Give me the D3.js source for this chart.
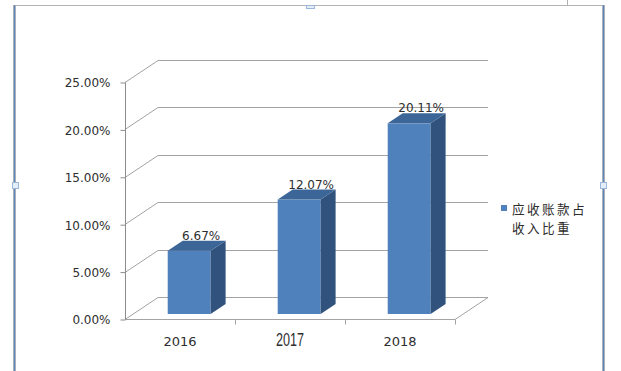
<!DOCTYPE html>
<html>
<head>
<meta charset="utf-8">
<script src="https://cdn.jsdelivr.net/npm/d3@7"></script>
<style>
  body { margin: 0; background: #fff; }
  svg { display: block; }
</style>
</head>
<body>
<div id="chart"></div>
<script>
"use strict"

// chart data
var years = ['2016', '2017', '2018'];
var ratios = [0.0667, 0.1207, 0.2011];
var yTicks = [0, 0.05, 0.10, 0.15, 0.20, 0.25];
var legendLines = ['应收账款占', '收入比重'];

var width = 621;
var height = 371;
var svg = d3.select("#chart")
    .append("svg")
    .attr("width", width)
    .attr("height", height);

svg.append("rect").attr("width", width).attr("height", height).attr("fill", "#fff");

// word style frame round the chart
svg.append("line").attr("x1", 16).attr("x2", 603).attr("y1", 5.5).attr("y2", 5.5)
    .attr("stroke", "#b4b4b4");
svg.append("line").attr("x1", 567.5).attr("x2", 567.5).attr("y1", 0).attr("y2", 5)
    .attr("stroke", "#b0b0b0");
[13, 602].forEach(function(bx) {
    svg.append("rect").attr("x", bx).attr("y", 5).attr("width", 3).attr("height", height - 5)
        .attr("fill", "#a9b0ba");
    svg.append("rect").attr("x", bx + 1).attr("y", 5).attr("width", 1).attr("height", height - 5)
        .attr("fill", "#5d86bd");
});
var handles = [[12, 182, 6, 6], [600, 182, 6, 6], [306, 5, 8, 3]];
handles.forEach(function(h) {
    svg.append("rect").attr("x", h[0] + 0.5).attr("y", h[1] + 0.5).attr("width", h[2]).attr("height", h[3])
        .attr("fill", "#e3eef9").attr("stroke", "#9bb8dc");
});

// scales
var x = d3.scaleBand()
    .domain(years)
    .range([125, 455])
    .padding(0);
var y = d3.scaleLinear()
    .domain([0, 0.25])
    .range([319, 82]);

// depth of the 3d box and of the bars
var wallDx = 33, wallDy = -22;
var barDx = 7.5, barDy = -5;
var barDepthX = 15, barDepthY = -10;
var gridColor = "#a3a3a3";
var textColor = "#2e2e2e";
var fmt = d3.format(".2%");

// back wall gridlines and the side lines
var grid = svg.append("g").attr("fill", "none").attr("stroke", gridColor).attr("stroke-width", 1);
yTicks.forEach(function(t) {
    var yy = Math.round(y(t)) + 0.5;
    grid.append("polyline")
        .attr("points", [[125, yy], [125 + wallDx, yy + wallDy], [488, yy + wallDy]].join(" "));
});
// floor front and right edge
var y0 = Math.round(y(0)) + 0.5;
grid.append("polyline")
    .attr("points", [[125, y0], [455, y0], [455 + wallDx, y0 + wallDy]].join(" "));

// bars
var bw = x.bandwidth();
var barW = bw * 0.39;
var bars = svg.append("g").selectAll("g")
    .data(years.map(function(yr, i) { return {year: yr, value: ratios[i]}; }))
    .enter()
    .append("g");

function barX(d) { return x(d.year) + bw * 0.32 + barDx; }
function barTop(d) { return y(d.value) + barDy; }
var barBottom = y(0) + barDy;

bars.append("rect")
    .attr("x", barX)
    .attr("y", barTop)
    .attr("width", barW)
    .attr("height", function(d) { return barBottom - barTop(d); })
    .attr("fill", "#4f81bd");
bars.append("polygon")
    .attr("points", function(d) {
        var x1 = barX(d) + barW, t = barTop(d);
        return [[x1, t], [x1 + barDepthX, t + barDepthY], [x1 + barDepthX, barBottom + barDepthY], [x1, barBottom]].join(" ");
    })
    .attr("fill", "#30527c");
bars.append("polygon")
    .attr("points", function(d) {
        var x0 = barX(d), t = barTop(d);
        return [[x0, t], [x0 + barDepthX, t + barDepthY], [x0 + barW + barDepthX, t + barDepthY], [x0 + barW, t]].join(" ");
    })
    .attr("fill", "#3d6698");

// value labels
bars.append("text")
    .attr("x", function(d) { return barX(d) + barW / 2 + 12; })
    .attr("y", function(d) { return y(d.value) - 16; })
    .attr("text-anchor", "middle")
    .attr("font-family", "DejaVu Sans")
    .attr("font-size", 12)
    .attr("fill", textColor)
    .text(function(d) { return fmt(d.value); });

// y axis
var yAxis = svg.append("g")
    .attr("transform", "translate(125.5,0.5)")
    .call(d3.axisLeft(y).tickValues(yTicks).tickFormat(fmt).tickSize(5).tickPadding(10));
yAxis.select(".domain").attr("stroke", "#8c8c8c").attr("d", "M0," + y(0.25) + "V" + y(0));
yAxis.selectAll(".tick line").attr("stroke", "#8c8c8c");
yAxis.selectAll(".tick text")
    .attr("font-family", "DejaVu Sans")
    .attr("font-size", 12)
    .attr("fill", textColor)
    .attr("dy", "0.36em");

// x axis ticks at the band edges
var edges = years.map(function(d) { return x(d); }).concat([455]);
svg.append("g").selectAll("line")
    .data(edges.slice(1))
    .enter()
    .append("line")
    .attr("x1", function(d) { return Math.round(d) + 0.5; })
    .attr("x2", function(d) { return Math.round(d) + 0.5; })
    .attr("y1", y0)
    .attr("y2", y0 + 5)
    .attr("stroke", gridColor);

// category labels (the middle one is set in a narrow font in the original)
svg.append("g").selectAll("text")
    .data(years)
    .enter()
    .append("text")
    .attr("x", function(d) { return x(d) + bw / 2; })
    .attr("y", 346)
    .attr("text-anchor", "middle")
    .attr("font-family", function(d, i) { return i == 1 ? "Liberation Sans" : "DejaVu Sans"; })
    .attr("font-size", function(d, i) { return i == 1 ? 17.5 : 13; })
    .attr("textLength", function(d, i) { return i == 1 ? 28 : null; })
    .attr("lengthAdjust", "spacingAndGlyphs")
    .attr("fill", textColor)
    .text(function(d) { return d; });

// legend, two lines
svg.append("rect")
    .attr("x", 501).attr("y", 205).attr("width", 6).attr("height", 6)
    .attr("fill", "#4f81bd");
svg.append("g").selectAll("text")
    .data(legendLines)
    .enter()
    .append("text")
    .attr("x", 512)
    .attr("y", function(d, i) { return 214 + i * 18.5; })
    .attr("font-family", "'Noto Sans CJK SC'")
    .attr("font-size", 12.6)
    .attr("letter-spacing", 2.4)
    .attr("fill", textColor)
    .text(function(d) { return d; });
</script>
</body>
</html>
